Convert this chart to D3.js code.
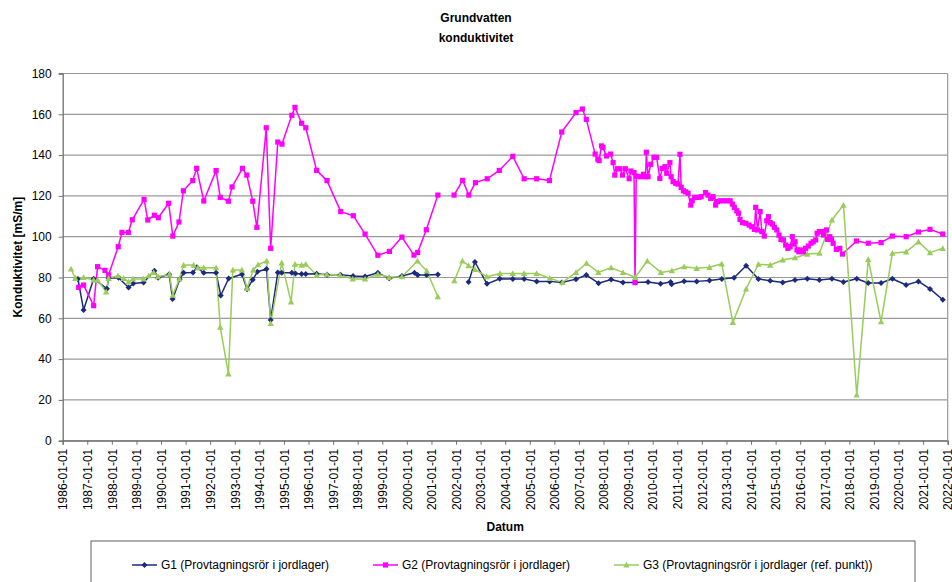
<!DOCTYPE html>
<html><head><meta charset="utf-8">
<script src="https://cdn.jsdelivr.net/npm/d3@7/dist/d3.min.js"></script>
<style>
body{margin:0;background:#fff}
text{font-family:"Liberation Sans",Arial,sans-serif;fill:#000}
</style>
</head><body>
<svg id="chart" width="952" height="582"></svg>
<script>
// ---- data (dates as decimal years, values in mS/m; null = gap) ----
const g1Dates = [1986.62,1986.85,1987.26,1987.80,1987.87,1988.27,1988.68,1988.87,1989.29,1989.73,1989.88,1990.33,1990.47,1990.76,1990.92,1991.30,1991.46,1991.74,1992.24,1992.43,1992.75,1993.29,1993.50,1993.73,1993.92,1994.29,1994.46,1994.75,1994.91,1995.32,1995.47,1995.72,1995.89,1996.33,1996.75,1997.30,1997.81,1998.30,1998.82,1999.28,1999.80,2000.31,2000.44,2000.80,2001.26,2001.60,2002.51,2002.77,2003.26,2003.78,2004.31,2004.77,2005.28,2005.81,2006.30,2006.88,2007.30,2007.80,2008.31,2008.79,2009.30,2009.81,2010.32,2010.73,2010.77,2011.28,2011.79,2012.31,2012.81,2013.31,2013.80,2014.30,2014.78,2015.29,2015.79,2016.29,2016.78,2017.29,2017.76,2018.30,2018.77,2019.29,2019.75,2020.31,2020.81,2021.28,2021.80];
const g1Values = [79.3,64.1,79.4,74.5,79.6,79.9,75.1,77,77.5,83.3,79.9,81.6,69.4,79.2,82.3,82.4,85,82.3,82.3,71.2,79.5,81.6,74.2,78.9,82.8,84.2,59.2,82.4,82.3,82.3,82,81.7,81.7,81.8,81.4,81.3,80.7,80.5,82.3,79.6,80.7,82.3,81.2,81.2,81.5,null,77.8,87.6,76.9,79.4,79.3,79.3,78.1,78.1,77.5,79.2,81.2,77.2,79,77.5,77.5,77.8,76.9,77.8,76.7,78.2,78.1,78.5,79.3,79.9,85.8,79.3,78.4,77.6,78.8,79.4,78.8,79.4,77.8,79.4,77.3,77.3,79.4,76.3,78.1,74.4,69.1];

const g2Dates = [1986.65,1986.85,1987.26,1987.42,1987.72,1987.87,1988.26,1988.41,1988.67,1988.83,1989.31,1989.46,1989.73,1989.89,1990.31,1990.48,1990.73,1990.91,1991.29,1991.45,1991.74,1992.24,1992.41,1992.74,1992.89,1993.31,1993.49,1993.73,1993.90,1994.28,1994.46,1994.75,1994.92,1995.32,1995.45,1995.72,1995.89,1996.33,1996.75,1997.31,1997.82,1998.30,1998.82,1999.29,1999.80,2000.29,2000.44,2000.79,2001.26,2001.60,2001.92,2002.27,2002.52,2002.79,2003.27,2003.76,2004.31,2004.77,2005.28,2005.80,2006.30,2006.88,2007.14,2007.30,2007.66,2007.77,2007.82,2007.92,2007.98,2008.12,2008.29,2008.39,2008.46,2008.57,2008.67,2008.77,2008.89,2009.04,2009.11,2009.24,2009.28,2009.33,2009.51,2009.62,2009.71,2009.74,2009.81,2009.92,2010.05,2010.16,2010.29,2010.39,2010.50,2010.57,2010.70,2010.75,2010.83,2010.93,2011.03,2011.11,2011.16,2011.25,2011.34,2011.44,2011.55,2011.61,2011.71,2011.88,2011.97,2012.15,2012.25,2012.36,2012.46,2012.56,2012.64,2012.74,2012.88,2013.01,2013.15,2013.24,2013.32,2013.42,2013.49,2013.55,2013.65,2013.79,2013.92,2014.03,2014.14,2014.19,2014.26,2014.37,2014.44,2014.54,2014.64,2014.71,2014.78,2014.87,2014.95,2015.05,2015.14,2015.22,2015.32,2015.41,2015.50,2015.59,2015.68,2015.74,2015.79,2015.87,2015.95,2016.03,2016.13,2016.22,2016.33,2016.44,2016.53,2016.63,2016.69,2016.78,2016.87,2016.95,2017.07,2017.11,2017.20,2017.27,2017.34,2017.47,2017.61,2017.72,2018.29,2018.77,2019.29,2019.75,2020.31,2020.81,2021.28,2021.80];
const g2Values = [75.2,76.3,66.2,85.3,83.5,81.3,95.1,102.1,102.1,108.3,118.3,108.2,110.5,109.3,116.4,100.3,107.2,122.5,127.5,133.5,117.5,132.4,119.3,117.4,124.4,133.5,130.2,117.4,104.6,153.4,94.3,146.4,145.4,159.5,163.4,155.6,153.4,132.5,127.5,112.3,110.3,101.3,90.9,92.8,99.8,91,92.3,103.4,120.4,null,120.4,127.6,120.4,126.5,128.4,132.5,139.4,128.4,128.4,127.5,151.3,160.8,162.6,157.5,140.5,138,137.3,144.5,143.8,139.6,140.5,136.3,130.2,133.3,133.3,130.2,133.3,128.4,132.2,131.4,77.5,129.7,129.4,130.6,129.4,141.4,129.4,135.5,138.9,138.9,128.6,133.5,134.3,131.1,136.3,129.4,127,126.2,125.8,140.4,124.2,122.5,122,121.3,115.5,117.6,119.3,119.3,119.6,121.6,120.4,118.8,119.6,115.5,117.2,117.6,117.6,117.6,117.6,116,114.4,112.7,111.5,108.5,106.9,106.6,105.7,104.9,103.6,114.4,103.3,112.3,102.5,100.3,107.8,109.8,106.9,106.2,104.6,103.3,100.8,98.7,98.4,95.9,94.3,95.1,100,96.4,97.5,93.5,92.6,93.5,92.6,94.3,95.4,96.8,97.5,98.4,101.7,102.5,102.5,100.8,103.3,98.7,100,98.7,96.8,93.8,94.3,91.5,97.9,96.8,97.1,100.3,100,102.3,103.6,101.3];

const g3Dates = [1986.34,1986.51,1986.85,1987.26,1987.42,1987.77,1987.87,1988.25,1988.48,1988.68,1988.86,1989.29,1989.50,1989.70,1989.88,1990.34,1990.48,1990.75,1990.92,1991.33,1991.50,1991.74,1992.24,1992.41,1992.74,1992.92,1993.29,1993.50,1993.75,1993.95,1994.30,1994.46,1994.91,1995.29,1995.45,1995.72,1995.89,1996.33,1996.74,1997.28,1997.80,1998.30,1998.82,1999.28,1999.80,2000.43,2000.81,2001.26,2001.60,2001.93,2002.26,2002.51,2002.77,2003.25,2003.79,2004.31,2004.77,2005.28,2005.81,2006.33,2006.88,2007.31,2007.79,2008.31,2008.79,2009.29,2009.78,2010.33,2010.78,2011.28,2011.79,2012.31,2012.81,2013.26,2013.80,2014.30,2014.78,2015.29,2015.79,2016.29,2016.78,2017.29,2017.76,2018.30,2018.77,2019.29,2019.75,2020.31,2020.81,2021.28,2021.80];
const g3Values = [84.2,79.6,80,78.8,78.8,73,79.6,80.9,79.6,77.9,79.3,79.3,80.9,82.5,80.4,81.6,71.4,79.3,86.1,86.1,84.8,84.8,84.8,55.7,32.7,83.7,83.7,74.7,83.7,86.3,88.1,57.5,87.2,68.1,86.5,86.1,86.5,81.2,81.6,81.2,79.3,79.3,81.6,80.1,80.4,88.1,83.2,70.6,null,78.4,88.1,85.8,84,80.4,82,82,82,82,79.6,77.6,82.5,87,82.5,84.8,82.5,80.1,88.1,82.5,83.3,85.3,84.5,85,86.7,58,74.4,86.5,86.1,88.6,89.7,91.5,91.9,108.2,115.5,22.4,88.9,58.3,91.9,92.6,97.5,92.2,94.3];

const seriesNames = ["G1 (Provtagningsrör i jordlager)","G2 (Provtagningsrör i jordlager)","G3 (Provtagningsrör i jordlager (ref. punkt))"];
const seriesColors = ["#1b2a7a","#ff00ff","#99cc5a"];
const yTickValues = [0,20,40,60,80,100,120,140,160,180];
const xTickYears = d3.range(1986, 2023);

// ---- helpers ----
function toDate(y){
  const yr = Math.floor(y);
  const a = Date.UTC(yr,0,1), b = Date.UTC(yr+1,0,1);
  return new Date(a + (y-yr)*(b-a));
}
function build(dates, values){ return dates.map((d,i)=>({date:toDate(d), v:values[i]})); }
const series = [build(g1Dates,g1Values), build(g2Dates,g2Values), build(g3Dates,g3Values)];

const svg = d3.select("#chart");
const L = 62.7, R = 947.7, T = 73.5, B = 440.7;
const x = d3.scaleUtc().domain([new Date(Date.UTC(1986,0,1)), new Date(Date.UTC(2022,0,1))]).range([L,R]);
const y = d3.scaleLinear().domain([0,180]).range([B,T]);

// gridlines
svg.append("g").selectAll("line").data(yTickValues).join("line")
  .attr("x1",L).attr("x2",R).attr("y1",d=>y(d)).attr("y2",d=>y(d))
  .attr("stroke","#9a9a9a").attr("stroke-width",1.2);
// right border
svg.append("line").attr("x1",R).attr("x2",R).attr("y1",T).attr("y2",B).attr("stroke","#9a9a9a").attr("stroke-width",1.2);

// axes
const yAxis = svg.append("g").attr("transform",`translate(${L},0)`)
  .call(d3.axisLeft(y).tickValues(yTickValues).tickSize(4).tickPadding(7).tickFormat(d3.format("d")));
yAxis.select(".domain").attr("stroke","#707070").attr("stroke-width",1.3);
yAxis.selectAll(".tick line").attr("stroke","#707070");
yAxis.selectAll("text").style("font-size","12px").attr("fill","#000");

const xAxis = svg.append("g").attr("transform",`translate(0,${B})`)
  .call(d3.axisBottom(x).tickValues(xTickYears.map(yr=>new Date(Date.UTC(yr,0,1)))).tickSize(4).tickFormat(d3.utcFormat("%Y-%m-%d")));
xAxis.select(".domain").attr("stroke","#707070").attr("stroke-width",1.3);
xAxis.selectAll(".tick line").attr("stroke","#707070");
xAxis.selectAll("text")
  .attr("transform","rotate(-90)").attr("x",-8).attr("y",0).attr("dy","0.35em")
  .style("text-anchor","end").style("font-size","12px").attr("fill","#000");

// lines
const line = d3.line().defined(d=>d.v!=null).x(d=>x(d.date)).y(d=>y(d.v));
const markerPaths = ["M0,-3L3,0L0,3L-3,0Z","M-2.6,-2.6h5.2v5.2h-5.2Z","M0,-3.2L3.2,2.6L-3.2,2.6Z"];
series.forEach((s,i)=>{
  svg.append("path").datum(s).attr("d",line).attr("fill","none")
    .attr("stroke",seriesColors[i]).attr("stroke-width",1.5).attr("stroke-linejoin","round");
});
series.forEach((s,i)=>{
  svg.append("g").selectAll("path").data(s.filter(d=>d.v!=null)).join("path")
    .attr("d",markerPaths[i]).attr("transform",d=>`translate(${x(d.date)},${y(d.v)})`)
    .attr("fill",seriesColors[i]);
});

// titles
svg.append("text").attr("x",476).attr("y",22).attr("text-anchor","middle").style("font-size","12px").style("font-weight","bold").text("Grundvatten");
svg.append("text").attr("x",476).attr("y",42).attr("text-anchor","middle").style("font-size","12px").style("font-weight","bold").text("konduktivitet");
svg.append("text").attr("x",(L+R)/2).attr("y",531).attr("text-anchor","middle").style("font-size","12px").style("font-weight","bold").text("Datum");
svg.append("text").attr("transform",`translate(22,${(T+B)/2}) rotate(-90)`).attr("text-anchor","middle").style("font-size","12px").style("font-weight","bold").text("Konduktivitet  [mS/m]");

// legend
svg.append("rect").attr("x",91).attr("y",541).attr("width",824).attr("height",60).attr("fill","#fff").attr("stroke","#606060").attr("stroke-width",1);
const legendX = [132, 373, 614];
seriesNames.forEach((n,i)=>{
  const g = svg.append("g").attr("transform",`translate(${legendX[i]},565)`);
  g.append("line").attr("x1",0).attr("x2",25).attr("stroke",seriesColors[i]).attr("stroke-width",1.5);
  g.append("path").attr("d",markerPaths[i]).attr("transform","translate(12.5,0)").attr("fill",seriesColors[i]);
  g.append("text").attr("x",29).attr("y",0).attr("dy","0.35em").style("font-size","12px").text(n);
});
</script>
</body></html>
